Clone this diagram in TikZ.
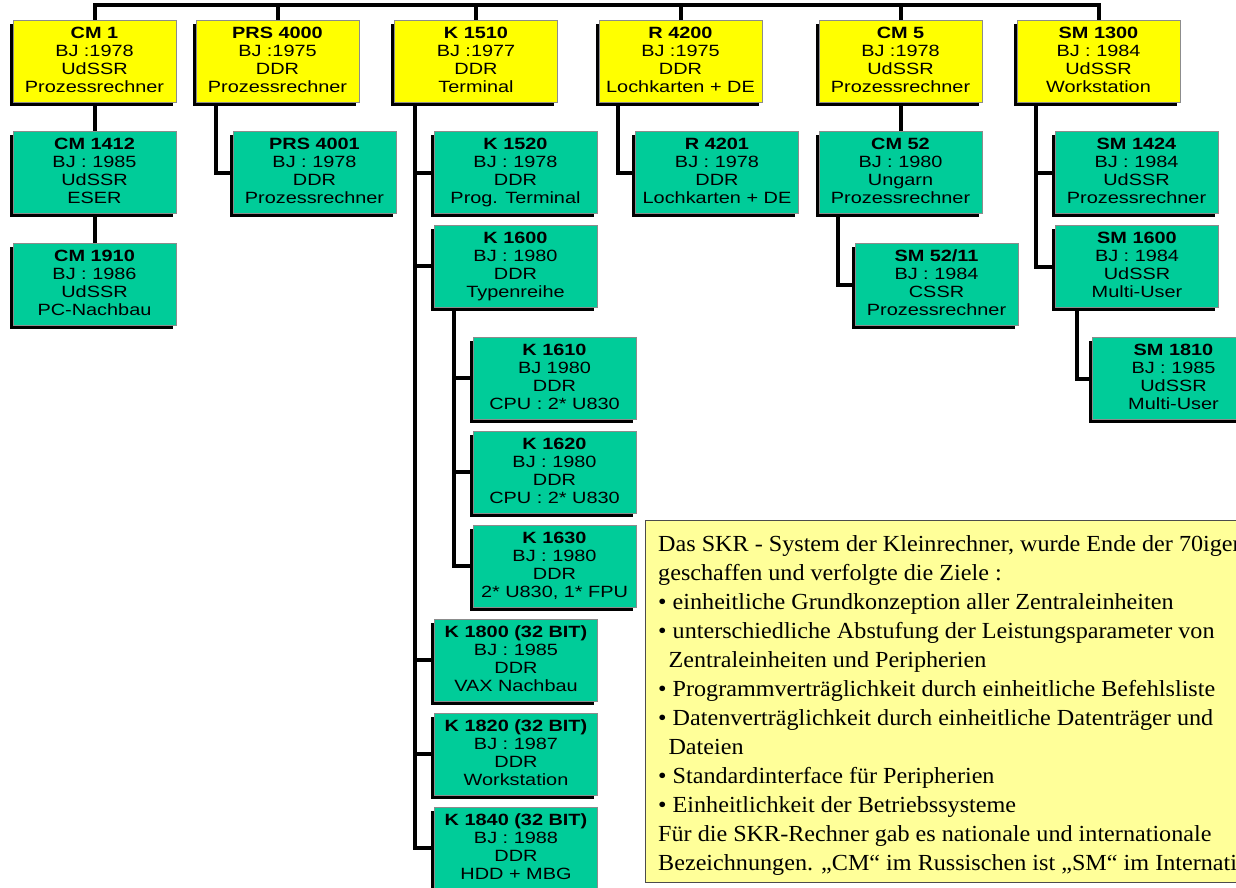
\documentclass[tikz,border=0pt]{standalone}
\usepackage{fontspec}
\newfontfamily\boxfont[FakeStretch=1.22]{Liberation Sans}
\newfontfamily\notefont[FakeStretch=1.05]{Liberation Serif}
\usetikzlibrary{shadows,backgrounds}

\definecolor{boxyellow}{RGB}{255,255,0}
\definecolor{boxgreen}{RGB}{0,204,153}
\definecolor{noteyellow}{RGB}{255,255,153}

\tikzset{
  unit/.style={draw=black!45, line width=0.8pt, minimum width=163pt,
    minimum height=82pt, inner sep=0pt, align=center,
    font=\boxfont\fontsize{16.3}{18}\selectfont,
    execute at end node={\rule[-3pt]{0pt}{3pt}},
    drop shadow={shadow xshift=-3.5pt, shadow yshift=-3.5pt, fill=black, opacity=1}},
  topunit/.style={unit, fill=boxyellow},
  subunit/.style={unit, fill=boxgreen},
  link/.style={line width=4pt, draw=black, line join=miter},
  note/.style={draw=black!70, line width=1pt, fill=noteyellow, anchor=north west,
    minimum width=640pt, minimum height=362pt, inner sep=0pt},
  notetext/.style={anchor=north west, inner sep=0pt, align=left,
    font=\notefont\fontsize{23}{29}\selectfont}
}

\begin{document}
\begin{tikzpicture}[x=1pt, y=-1pt]
\useasboundingbox (0,0) rectangle (1236,887);
\begin{scope}
\clip (0,0) rectangle (1236,887);

% main families
\node[topunit] (cm1)     at (94.5,61)  {\textbf{CM 1}\\BJ :1978\\UdSSR\\Prozessrechner};
\node[topunit] (prs4000) at (277.5,61) {\textbf{PRS 4000}\\BJ :1975\\DDR\\Prozessrechner};
\node[topunit] (k1510)   at (476,61)   {\textbf{K 1510}\\BJ :1977\\DDR\\Terminal};
\node[topunit] (r4200)   at (680.5,61) {\textbf{R 4200}\\BJ :1975\\DDR\\Lochkarten + DE};
\node[topunit] (cm5)     at (900.5,61) {\textbf{CM 5}\\BJ :1978\\UdSSR\\Prozessrechner};
\node[topunit] (sm1300)  at (1098.5,61){\textbf{SM 1300}\\BJ : 1984\\UdSSR\\Workstation};

% successors
\node[subunit] (cm1412)  at (94.5,172.5)  {\textbf{CM 1412}\\BJ : 1985\\UdSSR\\ESER};
\node[subunit] (cm1910)  at (94.5,284)    {\textbf{CM 1910}\\BJ : 1986\\UdSSR\\PC-Nachbau};
\node[subunit] (prs4001) at (314.5,172.5) {\textbf{PRS 4001}\\BJ : 1978\\DDR\\Prozessrechner};
\node[subunit] (k1520)   at (515.5,172.5) {\textbf{K 1520}\\BJ : 1978\\DDR\\Prog. Terminal};
\node[subunit] (k1600)   at (515.5,266)   {\textbf{K 1600}\\BJ : 1980\\DDR\\Typenreihe};
\node[subunit] (k1610)   at (554.5,378)   {\textbf{K 1610}\\BJ 1980\\DDR\\CPU : 2* U830};
\node[subunit] (k1620)   at (554.5,472)   {\textbf{K 1620}\\BJ : 1980\\DDR\\CPU : 2* U830};
\node[subunit] (k1630)   at (554.5,566)   {\textbf{K 1630}\\BJ : 1980\\DDR\\2* U830, 1* FPU};
\node[subunit] (k1800)   at (516,660)     {\textbf{K 1800 (32 BIT)}\\BJ : 1985\\DDR\\VAX Nachbau};
\node[subunit] (k1820)   at (516,754)     {\textbf{K 1820 (32 BIT)}\\BJ : 1987\\DDR\\Workstation};
\node[subunit] (k1840)   at (516,848)     {\textbf{K 1840 (32 BIT)}\\BJ : 1988\\DDR\\HDD + MBG};
\node[subunit] (r4201)   at (717,172.5)   {\textbf{R 4201}\\BJ : 1978\\DDR\\Lochkarten + DE};
\node[subunit] (cm52)    at (900.5,172.5) {\textbf{CM 52}\\BJ : 1980\\Ungarn\\Prozessrechner};
\node[subunit] (sm5211)  at (936.5,284.5) {\textbf{SM 52/11}\\BJ : 1984\\CSSR\\Prozessrechner};
\node[subunit] (sm1424)  at (1136.5,172.5){\textbf{SM 1424}\\BJ : 1984\\UdSSR\\Prozessrechner};
\node[subunit] (sm1600)  at (1137,266.5)  {\textbf{SM 1600}\\BJ : 1984\\UdSSR\\Multi-User};
\node[subunit] (sm1810)  at (1173.5,378.5){\textbf{SM 1810}\\BJ : 1985\\UdSSR\\Multi-User};

% explanatory note
\node[note] (notebox) at (645,520) {};
\node[notetext] (notebody) at (658,535) {Das SKR - System der Kleinrechner, wurde Ende der 70iger\\
geschaffen und verfolgte die Ziele :\\
• einheitliche Grundkonzeption aller Zentraleinheiten\\
• unterschiedliche Abstufung der Leistungsparameter von\\
\hspace*{0.45em}Zentraleinheiten und Peripherien\\
• Programmverträglichkeit durch einheitliche Befehlsliste\\
• Datenverträglichkeit durch einheitliche Datenträger und\\
\hspace*{0.45em}Dateien\\
• Standardinterface für Peripherien\\
• Einheitlichkeit der Betriebssysteme\\
Für die SKR-Rechner gab es nationale und internationale\\
Bezeichnungen. „CM“ im Russischen ist „SM“ im Internationalen.};
\end{scope}

\begin{scope}[on background layer]
\fill[white] (0,0) rectangle (1236,887);
\coordinate (bus) at (0,5);
% common bus over the family heads
\draw[link] (cm1.north) -- (cm1.north |- bus) -| (sm1300.north);
\foreach \n in {prs4000,k1510,r4200,cm5}
  \draw[link] (\n.north) -- (\n.north |- bus);
% direct descendants
\draw[link] (cm1.south) -- (cm1412.north);
\draw[link] (cm1412.south) -- (cm1910.north);
\draw[link] (cm5.south) -- (cm52.north);
% side branches
\draw[link] ([xshift=20pt]prs4000.south west) |- (prs4001.west);
\foreach \n in {k1520,k1600,k1800,k1820,k1840}
  \draw[link] ([xshift=21pt]k1510.south west) |- (\n.west);
\foreach \n in {k1610,k1620,k1630}
  \draw[link] ([xshift=20pt]k1600.south west) |- (\n.west);
\draw[link] ([xshift=19pt]r4200.south west) |- (r4201.west);
\draw[link] ([xshift=19pt]cm52.south west) |- (sm5211.west);
\foreach \n in {sm1424,sm1600}
  \draw[link] ([xshift=19pt]sm1300.south west) |- (\n.west);
\draw[link] ([xshift=22pt]sm1600.south west) |- (sm1810.west);
\end{scope}
\end{tikzpicture}
\end{document}
